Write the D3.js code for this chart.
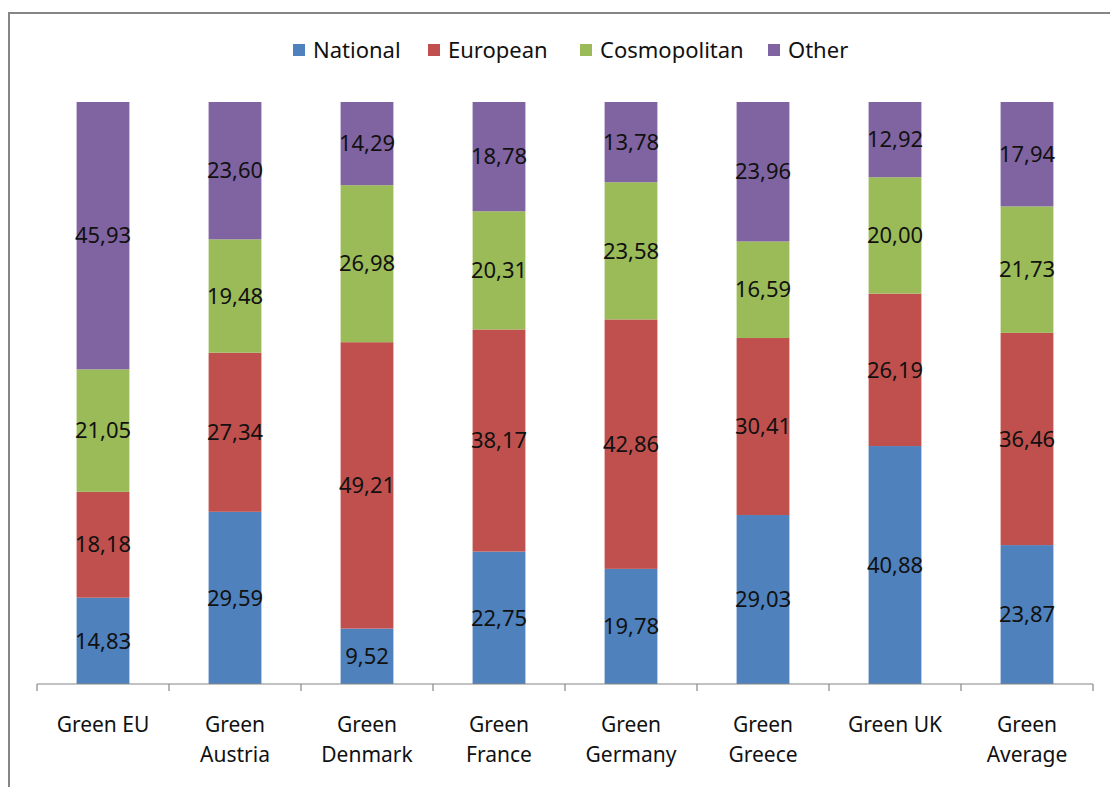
<!DOCTYPE html>
<html>
<head>
<meta charset="utf-8">
<script src="https://cdn.jsdelivr.net/npm/d3@7"></script>
<style>
  body { margin: 0; background: #fff; }
  svg text { font-family: "Noto Sans", "Open Sans", sans-serif; }
</style>
</head>
<body>
<div id="chart"></div>
<script>
const categories = ["Green EU", "Green Austria", "Green Denmark", "Green France",
  "Green Germany", "Green Greece", "Green UK", "Green Average"]
const seriesNames = ["National", "European", "Cosmopolitan", "Other"]
const national     = [14.83, 29.59,  9.52, 22.75, 19.78, 29.03, 40.88, 23.87]
const european     = [18.18, 27.34, 49.21, 38.17, 42.86, 30.41, 26.19, 36.46]
const cosmopolitan = [21.05, 19.48, 26.98, 20.31, 23.58, 16.59, 20.00, 21.73]
const other        = [45.93, 23.60, 14.29, 18.78, 13.78, 23.96, 12.92, 17.94]
const colors = ["#4f81bd", "#c0504d", "#9bbb59", "#8064a2"]

const width = 1110, height = 787
const rows = categories.map((c, i) => ({
  cat: c,
  National: national[i], European: european[i],
  Cosmopolitan: cosmopolitan[i], Other: other[i]
}))

const svg = d3.select("#chart").append("svg")
  .attr("width", width)
  .attr("height", height)

// outer frame
svg.append("rect")
  .attr("x", 9).attr("y", 13)
  .attr("width", 1110).attr("height", 790)
  .attr("fill", "none")
  .attr("stroke", "#868686")
  .attr("stroke-width", 2)

const x = d3.scaleBand()
  .domain(categories)
  .range([37, 1093])
  .paddingInner(0.6)
  .paddingOuter(0.3)

const y = d3.scaleLinear()
  .domain([0, 1])
  .range([684, 102])

const stack = d3.stack().keys(seriesNames).offset(d3.stackOffsetExpand)
const layers = stack(rows)

const g = svg.selectAll("g.layer")
  .data(layers)
  .enter().append("g")
  .attr("class", "layer")
  .attr("fill", (d, i) => colors[i])

g.selectAll("rect")
  .data(d => d)
  .enter().append("rect")
  .attr("x", d => x(d.data.cat))
  .attr("width", x.bandwidth())
  .attr("y", d => y(d[1]))
  .attr("height", d => y(d[0]) - y(d[1]))

// value labels
layers.forEach(layer => {
  svg.append("g").selectAll("text")
    .data(layer)
    .enter().append("text")
    .attr("x", d => x(d.data.cat) + x.bandwidth() / 2)
    .attr("y", d => (y(d[0]) + y(d[1])) / 2)
    .attr("dy", "0.35em")
    .attr("text-anchor", "middle")
    .attr("font-size", 22)
    .attr("fill", "#111")
    .text(d => d.data[layer.key].toFixed(2).replace(".", ","))
})

// x axis line and boundary ticks
const axis = svg.append("g").attr("stroke", "#868686").attr("stroke-width", 1.2)
axis.append("line")
  .attr("x1", x.range()[0]).attr("x2", x.range()[1])
  .attr("y1", y(0)).attr("y2", y(0))
const half = (x.step() - x.bandwidth()) / 2
const bounds = categories.map(c => x(c) - half).concat([x.range()[1]])
axis.selectAll("line.tick")
  .data(bounds)
  .enter().append("line")
  .attr("class", "tick")
  .attr("x1", d => d).attr("x2", d => d)
  .attr("y1", y(0)).attr("y2", y(0) + 7)

// category labels
const lbl = svg.append("g").selectAll("text")
  .data(categories)
  .enter().append("text")
  .attr("x", d => x(d) + x.bandwidth() / 2)
  .attr("y", 732)
  .attr("text-anchor", "middle")
  .attr("font-size", 21)
  .attr("fill", "#111")
lbl.each(function (d) {
  const t = d3.select(this)
  const words = d.split(" ")
  if (d === "Green EU" || d === "Green UK") {
    t.text(d)
  } else {
    t.append("tspan").attr("x", x(d) + x.bandwidth() / 2).text(words[0])
    t.append("tspan").attr("x", x(d) + x.bandwidth() / 2).attr("dy", 30).text(words[1])
  }
})

// legend
const legendX = [293, 428, 580, 768]
const legend = svg.append("g")
  .selectAll("g")
  .data(seriesNames)
  .enter().append("g")
  .attr("transform", (d, i) => `translate(${legendX[i]},44)`)
legend.append("rect")
  .attr("width", 12).attr("height", 12)
  .attr("fill", (d, i) => colors[i])
legend.append("text")
  .attr("x", 20).attr("y", 6)
  .attr("dy", "0.35em")
  .attr("font-size", 22)
  .attr("fill", "#111")
  .text(d => d)
</script>
</body>
</html>
